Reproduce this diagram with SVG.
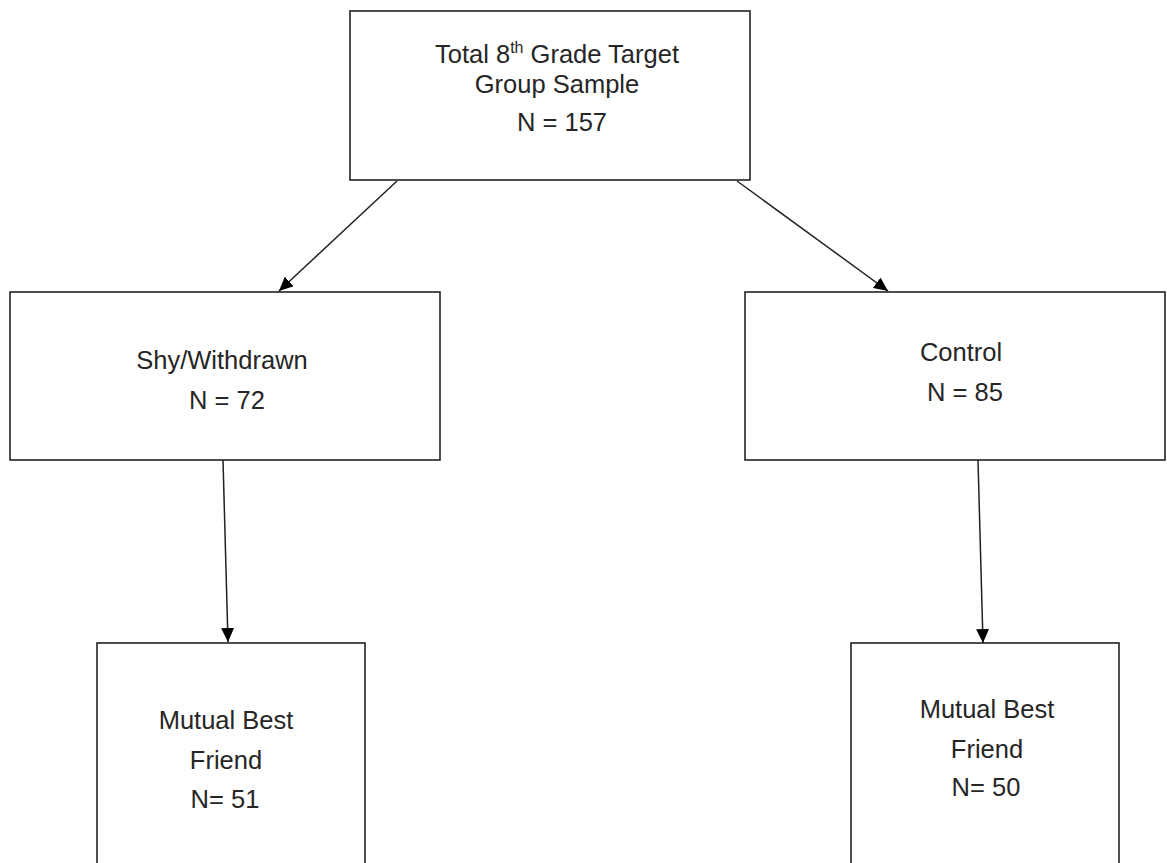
<svg xmlns="http://www.w3.org/2000/svg" width="1167" height="863" viewBox="0 0 1167 863">
<style>
.box{fill:#fff;stroke:#222;stroke-width:1.6}
.lbl{font-family:"Liberation Sans",Arial,sans-serif;font-size:25.5px;fill:#262626;text-anchor:middle}
.con{stroke:#222;stroke-width:1.5;fill:none}
</style>
<defs>
<marker id="ah" markerWidth="14" markerHeight="13" refX="14" refY="6.5" orient="auto" markerUnits="userSpaceOnUse" viewBox="0 0 14 13">
<path d="M0,0 L14,6.5 L0,13 Z" fill="#000"/>
</marker>
</defs>
<rect width="1167" height="863" fill="#fff"/>
<g id="n-total">
<rect class="box" x="350" y="11" width="400" height="169"/>
<text class="lbl" x="557" y="63">Total 8<tspan font-size="16" dy="-10">th</tspan><tspan dy="10"> Grade Target</tspan></text>
<text class="lbl" x="557" y="93">Group Sample</text>
<text class="lbl" x="562" y="131">N = 157</text>
</g>
<g id="n-shy">
<rect class="box" x="10" y="292" width="430" height="168"/>
<text class="lbl" x="222" y="369">Shy/Withdrawn</text>
<text class="lbl" x="227" y="409">N = 72</text>
</g>
<g id="n-control">
<rect class="box" x="745" y="292" width="420" height="168"/>
<text class="lbl" x="961" y="361">Control</text>
<text class="lbl" x="965" y="401">N = 85</text>
</g>
<g id="n-mbf-left">
<rect class="box" x="97" y="643" width="268" height="240"/>
<text class="lbl" x="226" y="729">Mutual Best</text>
<text class="lbl" x="226" y="769">Friend</text>
<text class="lbl" x="225" y="808">N= 51</text>
</g>
<g id="n-mbf-right">
<rect class="box" x="851" y="643" width="268" height="240"/>
<text class="lbl" x="987" y="718">Mutual Best</text>
<text class="lbl" x="987" y="758">Friend</text>
<text class="lbl" x="986" y="796">N= 50</text>
</g>
<g id="connectors">
<line class="con" x1="397" y1="181" x2="279" y2="291" marker-end="url(#ah)"/>
<line class="con" x1="737" y1="181" x2="888" y2="291" marker-end="url(#ah)"/>
<line class="con" x1="223" y1="460" x2="228" y2="642" marker-end="url(#ah)"/>
<line class="con" x1="978" y1="460" x2="983" y2="643" marker-end="url(#ah)"/>
</g>
</svg>
